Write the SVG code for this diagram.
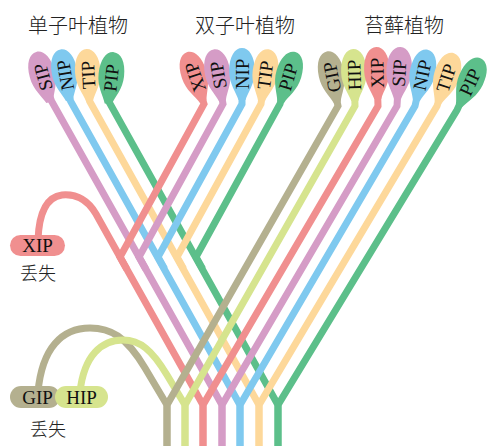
<svg xmlns="http://www.w3.org/2000/svg" xmlns:xlink="http://www.w3.org/1999/xlink" width="489" height="446" viewBox="0 0 489 446">
  <style>
    .ln{fill:none;stroke-width:7;stroke-linejoin:miter;stroke-miterlimit:4}
    .nk{stroke-linejoin:round}
    .s-gip{stroke:#b4b08f}.s-hip{stroke:#d6e48e}.s-xip{stroke:#f08f8f}.s-sip{stroke:#d59cc6}
    .s-nip{stroke:#7fc9ef}.s-tip{stroke:#fdd89a}.s-pip{stroke:#5cbf8a}
    .f-gip{fill:#b4b08f}.f-hip{fill:#d6e48e}.f-xip{fill:#f08f8f}.f-sip{fill:#d59cc6}
    .f-nip{fill:#7fc9ef}.f-tip{fill:#fdd89a}.f-pip{fill:#5cbf8a}
    .lb{font-family:"Liberation Serif","Times New Roman",serif;font-size:19px;text-anchor:middle;fill:#111}
    .pl{font-family:"Liberation Serif","Times New Roman",serif;font-size:19px;text-anchor:middle;fill:#111}
    .cn{font-family:"Noto Sans CJK SC","Noto Sans CJK JP",sans-serif;font-weight:300;text-anchor:middle;fill:#222}
  </style>
  <defs>
    <!-- spoon head: centre at origin, neck pointing down -->
    <path id="head" d="M-3.5,26 C-6,18 -12.8,10 -12.8,-3 C-12.8,-18 -7,-26 0,-26 C7,-26 12.8,-18 12.8,-3 C12.8,10 6,18 3.5,26 Z"/>
  </defs>
  <rect width="489" height="446" fill="#fff"/>

  <!-- group titles -->
  <g id="titles" class="cn" font-size="20">
    <text x="78" y="33">单子叶植物</text>
    <text x="245" y="33">双子叶植物</text>
    <text x="404" y="33">苔藓植物</text>
  </g>

  <g id="connectors">
    <!-- left arms: lost arches and angiosperm trunks -->
    <path class="ln nk s-gip" d="M167,446 L167,405 L145,368 C126,336 110,328 90,328 C62,328 42,348 38,392"/>
    <path class="ln nk s-hip" d="M185,446 L185,405 L167,375 C152,350 140,340 123,340 C102,340 84,355 80,392"/>
    <path class="ln s-xip" d="M203,446 L203,405 L120,257 L96,214 C86,197 74,194 62,195 C47,197 39,212 38,240"/>
    <path class="ln nk s-sip" d="M222,446 L222,405 L51.5,101 L43,77"/>
    <path class="ln nk s-nip" d="M240,446 L240,405 L70.5,101 L65,75"/>
    <path class="ln nk s-tip" d="M259,446 L259,405 L89.5,101 L88,75"/>
    <path class="ln nk s-pip" d="M278,446 L278,405 L108.5,101 L111,78"/>
    <!-- dicot branches -->
    <path class="ln s-xip" d="M126.7,269 L120,257 L204,104 L195,77"/>
    <path class="ln s-sip" d="M145.7,269 L139,257 L223,104 L218,75"/>
    <path class="ln s-nip" d="M164.7,269 L158,257 L242,104 L242,74"/>
    <path class="ln s-tip" d="M183.7,269 L177,257 L261,104 L265,75"/>
    <path class="ln s-pip" d="M202.7,269 L196,257 L280,104 L288,77"/>
    <!-- moss branches -->
    <path class="ln s-gip" d="M167,446 L167,405 L338,106 L332,77"/>
    <path class="ln s-hip" d="M185,446 L185,405 L355,106 L354,75"/>
    <path class="ln s-xip" d="M203,446 L203,405 L378,106 L377,73"/>
    <path class="ln s-sip" d="M222,446 L222,405 L397,106 L399,73"/>
    <path class="ln s-nip" d="M240,446 L240,405 L415,106 L422,75"/>
    <path class="ln s-tip" d="M259,446 L259,405 L437,106 L446,78"/>
    <path class="ln s-pip" d="M278,446 L278,405 L457,110 L470,82"/>
  </g>

  <!-- monocot spoons -->
  <g id="mono-sip" transform="translate(43,77) rotate(-15)"><use xlink:href="#head" class="f-sip"/><text class="lb" transform="rotate(-90)" dy="0.35em">SIP</text></g>
  <g id="mono-nip" transform="translate(65,75) rotate(-10)"><use xlink:href="#head" class="f-nip"/><text class="lb" transform="rotate(-90)" dy="0.35em">NIP</text></g>
  <g id="mono-tip" transform="translate(88,75) rotate(-3.3)"><use xlink:href="#head" class="f-tip"/><text class="lb" transform="rotate(-90)" dy="0.35em">TIP</text></g>
  <g id="mono-pip" transform="translate(111,78) rotate(6.2)"><use xlink:href="#head" class="f-pip"/><text class="lb" transform="rotate(-90)" dy="0.35em">PIP</text></g>

  <!-- dicot spoons -->
  <g id="di-xip" transform="translate(195,77) rotate(-18.4)"><use xlink:href="#head" class="f-xip"/><text class="lb" transform="rotate(-90)" dy="0.35em">XIP</text></g>
  <g id="di-sip" transform="translate(218,75) rotate(-9.8)"><use xlink:href="#head" class="f-sip"/><text class="lb" transform="rotate(-90)" dy="0.35em">SIP</text></g>
  <g id="di-nip" transform="translate(242,74) rotate(0)"><use xlink:href="#head" class="f-nip"/><text class="lb" transform="rotate(-90)" dy="0.35em">NIP</text></g>
  <g id="di-tip" transform="translate(265,75) rotate(7.9)"><use xlink:href="#head" class="f-tip"/><text class="lb" transform="rotate(-90)" dy="0.35em">TIP</text></g>
  <g id="di-pip" transform="translate(288,77) rotate(16.5)"><use xlink:href="#head" class="f-pip"/><text class="lb" transform="rotate(-90)" dy="0.35em">PIP</text></g>

  <!-- moss spoons -->
  <g id="moss-gip" transform="translate(332,77) rotate(-11.7)"><use xlink:href="#head" class="f-gip"/><text class="lb" transform="rotate(-90)" dy="0.35em">GIP</text></g>
  <g id="moss-hip" transform="translate(354,75) rotate(-1.8)"><use xlink:href="#head" class="f-hip"/><text class="lb" transform="rotate(-90)" dy="0.35em">HIP</text></g>
  <g id="moss-xip" transform="translate(377,73) rotate(-1.7)"><use xlink:href="#head" class="f-xip"/><text class="lb" transform="rotate(-90)" dy="0.35em">XIP</text></g>
  <g id="moss-sip" transform="translate(399,73) rotate(3.5)"><use xlink:href="#head" class="f-sip"/><text class="lb" transform="rotate(-90)" dy="0.35em">SIP</text></g>
  <g id="moss-nip" transform="translate(422,75) rotate(12.7)"><use xlink:href="#head" class="f-nip"/><text class="lb" transform="rotate(-90)" dy="0.35em">NIP</text></g>
  <g id="moss-tip" transform="translate(446,78) rotate(17.8)"><use xlink:href="#head" class="f-tip"/><text class="lb" transform="rotate(-90)" dy="0.35em">TIP</text></g>
  <g id="moss-pip" transform="translate(470,82) rotate(24.9)"><use xlink:href="#head" class="f-pip"/><text class="lb" transform="rotate(-90)" dy="0.35em">PIP</text></g>

  <!-- lost families -->
  <g id="lost-xip">
    <rect x="10" y="235" width="55" height="21" rx="10.5" class="f-xip"/>
    <text class="pl" x="37.5" y="252">XIP</text>
    <text class="cn" x="38" y="280" font-size="18">丢失</text>
  </g>
  <g id="lost-gip">
    <rect x="10" y="386" width="50" height="22" rx="11" class="f-gip"/>
    <text class="pl" x="37.5" y="403.5">GIP</text>
  </g>
  <g id="lost-hip">
    <rect x="55" y="386" width="53" height="22" rx="11" class="f-hip"/>
    <text class="pl" x="81.5" y="403.5">HIP</text>
  </g>
  <text id="lost-gip-hip" class="cn" x="48" y="436" font-size="18">丢失</text>
</svg>
